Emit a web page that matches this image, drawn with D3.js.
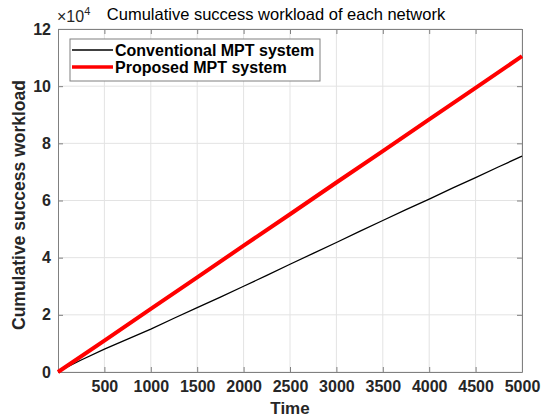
<!DOCTYPE html>
<html><head><meta charset="utf-8">
<script src="https://cdn.jsdelivr.net/npm/d3@7"></script>
<style>body{margin:0;background:#fff;} svg{display:block;font-family:"Liberation Sans",Arial,sans-serif;}
.tk text{font-size:16px;font-weight:bold;fill:#262626;font-family:"Liberation Sans",Arial,sans-serif;}</style>
</head><body>
<svg id="c" width="548" height="420"></svg>
<script>
const timeConv = [0,100,250,500,750,1000,1250,1500,1750,2000,2250,2500,2750,3000,3250,3500,3750,4000,4250,4500,4750,5000];
const conventional = [0,1800,4200,8000,11500,15000,18800,22500,26200,30000,33800,37700,41500,45300,49200,53000,56800,60500,64300,68000,71800,75500];
const timeProp = [0,500,1000,1500,2000,2500,3000,3500,4000,4500,5000];
const proposed = [0,11000,22100,33100,44200,55200,66300,77300,88400,99400,110500];
const xTicks = [500,1000,1500,2000,2500,3000,3500,4000,4500,5000];
const yTicks = [0,20000,40000,60000,80000,100000,120000];
const seriesNames = ["Conventional MPT system","Proposed MPT system"];
const seriesColors = ["#000000","#ff0000"];

const svg = d3.select("#c");
const L=58,R=522,T=29,B=372;
const x = d3.scaleLinear().domain([0,5000]).range([L,R]);
const y = d3.scaleLinear().domain([0,120000]).range([B,T]);
const axisCol="#808080";

// grid
svg.append("g").selectAll("line").data(xTicks).join("line")
  .attr("x1",d=>x(d)).attr("x2",d=>x(d)).attr("y1",T).attr("y2",B)
  .attr("stroke","#e3e3e3").attr("stroke-width",1);
svg.append("g").selectAll("line").data(yTicks).join("line")
  .attr("x1",L).attr("x2",R).attr("y1",d=>y(d)).attr("y2",d=>y(d))
  .attr("stroke","#e3e3e3").attr("stroke-width",1);

// axes
const gx = svg.append("g").attr("class","tk").attr("transform",`translate(0,${B})`)
  .call(d3.axisBottom(x).tickValues(xTicks).tickFormat(d3.format("d")).tickSizeInner(-5).tickSizeOuter(0).tickPadding(9));
const gy = svg.append("g").attr("class","tk").attr("transform",`translate(${L},0)`)
  .call(d3.axisLeft(y).tickValues(yTicks).tickFormat(d=>d/10000).tickSizeInner(-5).tickSizeOuter(0).tickPadding(7));
const gt = svg.append("g").attr("transform",`translate(0,${T})`)
  .call(d3.axisTop(x).tickValues(xTicks).tickSizeInner(-5).tickSizeOuter(0).tickFormat(""));
const gr = svg.append("g").attr("transform",`translate(${R},0)`)
  .call(d3.axisRight(y).tickValues(yTicks).tickSizeInner(-5).tickSizeOuter(0).tickFormat(""));
[gx,gy,gt,gr].forEach(g=>{
  g.attr("font-size",null).attr("font-family",null);
  g.select(".domain").attr("stroke",axisCol);
  g.selectAll(".tick line").attr("stroke",axisCol);
});

// lines
const line = d3.line().x(d=>x(d[0])).y(d=>y(d[1]));
svg.append("path").datum(timeConv.map((t,i)=>[t,conventional[i]]))
  .attr("d",line).attr("fill","none").attr("stroke",seriesColors[0]).attr("stroke-width",1.3);
svg.append("path").datum(timeProp.map((t,i)=>[t,proposed[i]]))
  .attr("d",line).attr("fill","none").attr("stroke",seriesColors[1]).attr("stroke-width",4);

// title
svg.append("text").attr("x",276).attr("y",20).attr("text-anchor","middle")
  .style("font-size","16.5px").attr("fill","#000").text("Cumulative success workload of each network");
// exponent
const ex = svg.append("text").attr("x",57).attr("y",22).style("font-size","16px").attr("fill","#262626");
ex.append("tspan").text("×10");
ex.append("tspan").attr("dy",-7).style("font-size","11px").text("4");

// axis labels
svg.append("text").attr("x",290).attr("y",414).attr("text-anchor","middle")
  .style("font-size","17px").style("font-weight","bold").attr("fill","#262626").text("Time");
svg.append("text").attr("transform",`translate(25,205) rotate(-90)`).attr("text-anchor","middle")
  .style("font-size","17.5px").style("font-weight","bold").attr("fill","#262626").text("Cumulative success workload");

// legend
const lg = svg.append("g");
lg.append("rect").attr("x",70).attr("y",39).attr("width",250).attr("height",42)
  .attr("fill","#fff").attr("stroke","#808080").attr("stroke-width",1);
seriesNames.forEach((n,i)=>{
  const yy = 50 + i*17;
  lg.append("line").attr("x1",72).attr("x2",113).attr("y1",yy).attr("y2",yy)
    .attr("stroke",seriesColors[i]).attr("stroke-width",i?3.5:1.3);
  lg.append("text").attr("x",115).attr("y",yy+6).style("font-size","16px").style("font-weight","bold")
    .attr("fill","#000").text(n);
});
</script>
</body></html>
